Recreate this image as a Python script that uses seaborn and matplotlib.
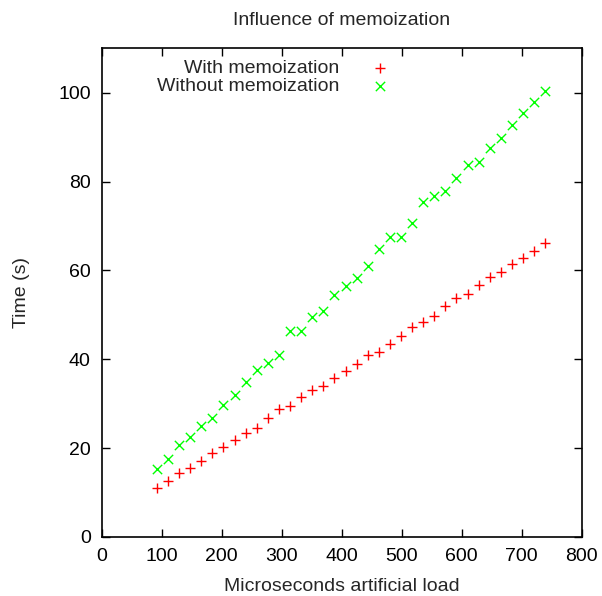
import pandas as pd
import seaborn as sns
import matplotlib.pyplot as plt

# microseconds of artificial load (x)
load = [92, 110.5, 129, 147.5, 166, 184.5, 203, 221.5, 240, 258.5, 277, 295.5,
        314, 332.5, 351, 369.5, 388, 406.5, 425, 443.5, 462, 480.5, 499, 517.5,
        536, 554.5, 573, 591.5, 610, 628.5, 647, 665.5, 684, 702.5, 721, 739.5]

with_memo = [11.1, 12.6, 14.3, 15.6, 17.0, 18.8, 20.3, 21.9, 23.3, 24.6, 26.7, 28.7,
             29.4, 31.5, 33.0, 34.0, 35.8, 37.3, 38.9, 40.9, 41.6, 43.5, 45.2, 47.2,
             48.5, 49.8, 52.1, 53.7, 54.6, 56.7, 58.5, 59.7, 61.5, 62.7, 64.3, 66.1]

without_memo = [15.3, 17.5, 20.6, 22.5, 25.0, 26.8, 29.8, 32.0, 34.9, 37.6, 39.2, 41.0,
                46.3, 46.3, 49.6, 50.9, 54.5, 56.4, 58.2, 60.9, 64.8, 67.5, 67.5, 70.7,
                75.5, 76.7, 77.9, 80.9, 83.7, 84.3, 87.6, 89.8, 92.7, 95.5, 98.0, 100.3]

df_with = pd.DataFrame({"load": load, "time": with_memo})
df_without = pd.DataFrame({"load": load, "time": without_memo})

sns.set_style("ticks")
plt.rcParams['font.family'] = ['Liberation Sans', 'DejaVu Sans']

fig = plt.figure(figsize=(6.02, 5.96), dpi=100)
ax = fig.add_axes([0.169, 0.099, 0.797, 0.820])

sns.scatterplot(data=df_with, x="load", y="time", marker="+", color="#ff0000",
                s=55, linewidth=1.0, label="With memoization", ax=ax)
sns.scatterplot(data=df_without, x="load", y="time", marker="x", color="#00ff00",
                s=45, linewidth=1.0, label="Without memoization", ax=ax)

ax.set_xlim(0, 800)
ax.set_ylim(0, 110)
ax.set_xticks(range(0, 801, 100))
ax.set_yticks(range(0, 101, 20))
ax.tick_params(direction="in", length=6, width=1, top=True, right=True,
               labelsize=14, pad=8, colors="black")
for s in ax.spines.values():
    s.set_visible(True)
    s.set_linewidth(1.2)
    s.set_color("black")

ax.set_xlabel("Microseconds artificial load", fontsize=14, labelpad=9)
ax.set_ylabel("Time (s)", fontsize=14, labelpad=20)
ax.set_title("Influence of memoization", fontsize=14, pad=17)

ax.legend(loc="upper right", bbox_to_anchor=(0.672, 0.917), bbox_transform=fig.transFigure,
          markerfirst=False, frameon=False, fontsize=14, handlelength=1.5,
          handletextpad=1.37, labelspacing=0.05, borderpad=0)

fig.savefig("out.png", dpi=100)
